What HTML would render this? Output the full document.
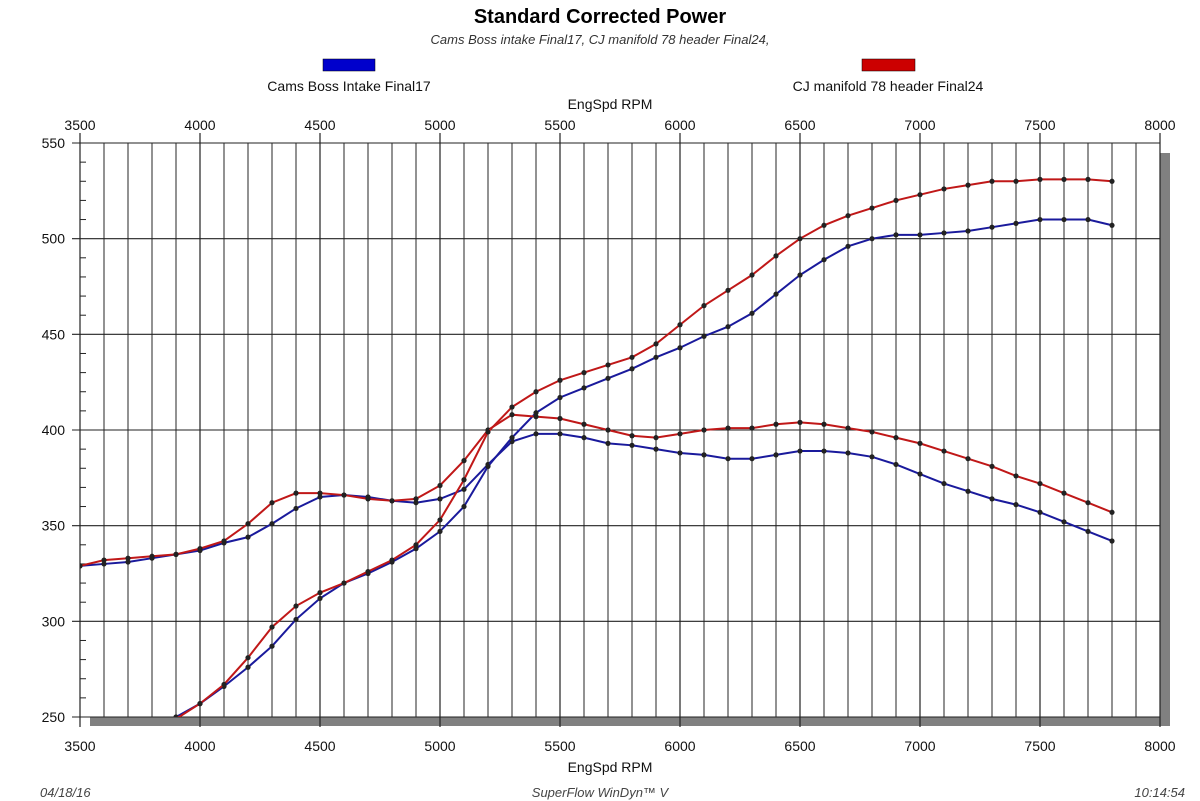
<!DOCTYPE html>
<html><head><meta charset="utf-8"><style>
html,body{margin:0;padding:0;background:#fff;}
svg{display:block;font-family:"Liberation Sans",Arial,sans-serif;}
</style></head><body>
<svg id="s" width="1200" height="801" viewBox="0 0 1200 801" xmlns="http://www.w3.org/2000/svg">
<defs><clipPath id="c"><rect x="80" y="143" width="1080" height="574"/></clipPath></defs>
<text x="600" y="23" text-anchor="middle" font-size="20" font-weight="bold" fill="#000">Standard Corrected Power</text>
<text x="600" y="44" text-anchor="middle" font-size="13" font-style="italic" fill="#333">Cams Boss intake Final17, CJ manifold 78 header Final24,</text>
<rect x="323" y="59" width="52" height="12" fill="#0000cc" stroke="#000" stroke-width="0.5"/>
<text x="349" y="91" text-anchor="middle" font-size="14" fill="#111">Cams Boss Intake Final17</text>
<rect x="862" y="59" width="53" height="12" fill="#cc0000" stroke="#000" stroke-width="0.5"/>
<text x="888" y="91" text-anchor="middle" font-size="14" fill="#111">CJ manifold 78 header Final24</text>
<text x="610" y="109" text-anchor="middle" font-size="14" fill="#111">EngSpd RPM</text>
<text x="610" y="772" text-anchor="middle" font-size="14" fill="#111">EngSpd RPM</text>
<text x="40" y="797" font-size="13" font-style="italic" fill="#444">04/18/16</text>
<text x="600" y="797" text-anchor="middle" font-size="13" font-style="italic" fill="#444">SuperFlow WinDyn™ V</text>
<text x="1185" y="797" text-anchor="end" font-size="13" font-style="italic" fill="#444">10:14:54</text>
<rect x="90" y="717" width="1070" height="9" fill="#808080"/>
<rect x="1160" y="153" width="10" height="573" fill="#808080"/>
<g id="g"></g>
</svg>
<script>
var s=document.getElementById('g'),ns='http://www.w3.org/2000/svg';
function X(r){return 80+(r-3500)*0.24;}function Y(v){return 717-(v-250)*1.9133;}
function el(t,a,p){var e=document.createElementNS(ns,t);for(var k in a)e.setAttribute(k,a[k]);(p||s).appendChild(e);return e;}
for(var r=3500;r<=8000;r+=100){var maj=r%500==0;el('line',{x1:X(r),x2:X(r),y1:maj?133:143,y2:maj?727:717,stroke:maj?'#222':'#777','stroke-width':maj?1.2:1.6});
if(maj){var t=el('text',{x:X(r),y:130,'text-anchor':'middle','font-size':14,fill:'#111'});t.textContent=r;
t=el('text',{x:X(r),y:751,'text-anchor':'middle','font-size':14,fill:'#111'});t.textContent=r;}}
for(var v=250;v<=550;v+=10){var maj=v%50==0;
if(maj){el('line',{x1:72,x2:1160,y1:Y(v),y2:Y(v),stroke:'#222','stroke-width':1.1});var t=el('text',{x:65,y:Y(v)+5,'text-anchor':'end','font-size':14,fill:'#111'});t.textContent=v;}
else el('line',{x1:80,x2:86,y1:Y(v),y2:Y(v),stroke:'#222','stroke-width':1});}
var cg=el('g',{'clip-path':'url(#c)'});
var D={
bt:[329,330,331,333,335,337,341,344,351,359,365,366,365,363,362,364,369,382,394,398,398,396,393,392,390,388,387,385,385,387,389,389,388,386,382,377,372,368,364,361,357,352,347,342],
rt:[329,332,333,334,335,338,342,351,362,367,367,366,364,363,364,371,384,400,408,407,406,403,400,397,396,398,400,401,401,403,404,403,401,399,396,393,389,385,381,376,372,367,362,357],
bp:[null,null,null,null,250,257,266,276,287,301,312,320,325,331,338,347,360,381,396,409,417,422,427,432,438,443,449,454,461,471,481,489,496,500,502,502,503,504,506,508,510,510,510,507],
rp:[null,null,null,null,249,257,267,281,297,308,315,320,326,332,340,353,374,399,412,420,426,430,434,438,445,455,465,473,481,491,500,507,512,516,520,523,526,528,530,530,531,531,531,530]};
function draw(a,col){var pts=[];a.forEach(function(v,i){if(v!=null)pts.push([X(3500+i*100),Y(v)]);});
if(a[4]!=null&&a[3]==null){pts.unshift([X(3850),Y(243)]);}
el('polyline',{points:pts.map(function(p){return p.join(',')}).join(' '),fill:'none',stroke:col,'stroke-width':2},cg);
pts.forEach(function(p,i){if(i>0||a[0]!=null)el('circle',{cx:p[0],cy:p[1],r:2.6,fill:'#222'},cg);});}
draw(D.bt,'#1a1a9c');draw(D.bp,'#1a1a9c');draw(D.rt,'#c01818');draw(D.rp,'#c01818');
</script>
</body></html>
